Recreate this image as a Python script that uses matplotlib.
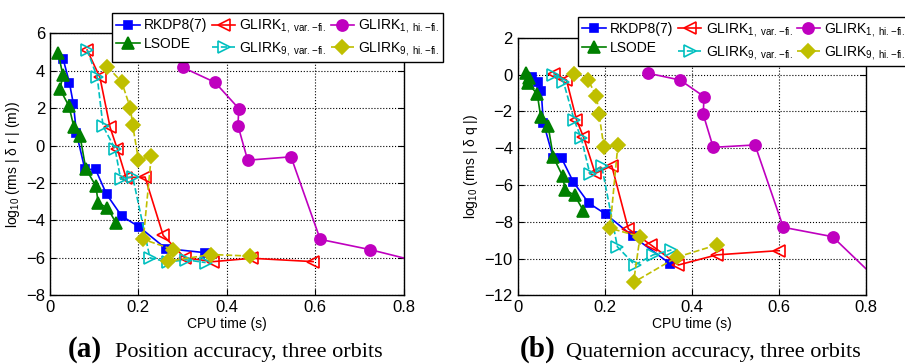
import matplotlib
matplotlib.use("Agg")
import matplotlib.pyplot as plt

plt.rcParams["font.family"] = ["Liberation Sans", "DejaVu Sans"]
plt.rcParams["mathtext.fontset"] = "custom"
plt.rcParams["mathtext.rm"] = "Liberation Sans"
plt.rcParams["mathtext.it"] = "Liberation Sans:italic"
plt.rcParams["mathtext.bf"] = "Liberation Sans:bold"

# CPU time (s) and log10 rms errors, position (pos) and quaternion (quat)
rkdp_t = [0.030, 0.044, 0.053, 0.060, 0.079, 0.103, 0.128, 0.162, 0.202, 0.262, 0.350]
rkdp_pos = [4.61, 3.36, 2.22, 0.65, -1.27, -1.27, -2.60, -3.76, -4.35, -5.50, -5.72]
rkdp_t_q = [0.032, 0.047, 0.054, 0.059, 0.082, 0.101, 0.128, 0.163, 0.202, 0.265, 0.350]
rkdp_quat = [-0.14, -0.38, -0.87, -2.60, -4.55, -4.55, -5.84, -6.98, -7.58, -8.80, -10.28]

lsode_t = [0.019, 0.029, 0.023, 0.043, 0.054, 0.068, 0.081, 0.104, 0.109, 0.130, 0.149]
lsode_pos = [4.93, 3.77, 3.00, 2.11, 1.00, 0.50, -1.23, -2.17, -3.07, -3.32, -4.12]
lsode_t_q = [0.019, 0.027, 0.023, 0.045, 0.053, 0.070, 0.082, 0.103, 0.109, 0.131, 0.151]
lsode_quat = [0.10, -0.20, -0.45, -1.05, -2.30, -2.80, -4.49, -5.50, -6.25, -6.57, -7.40]

g1var_t = [0.084, 0.113, 0.136, 0.152, 0.172, 0.215, 0.256, 0.305, 0.369, 0.456, 0.595]
g1var_pos = [5.11, 3.64, 0.97, -0.16, -1.71, -1.68, -4.80, -6.00, -6.20, -6.02, -6.20]
g1var_t_q = [0.084, 0.112, 0.135, 0.151, 0.178, 0.216, 0.254, 0.306, 0.369, 0.457, 0.599]
g1var_quat = [0.06, -0.28, -2.44, -3.38, -5.37, -4.95, -8.38, -9.26, -10.35, -9.80, -9.57]

g9var_t = [0.084, 0.107, 0.120, 0.147, 0.160, 0.187, 0.226, 0.267, 0.307, 0.352]
g9var_pos = [5.11, 3.64, 1.04, -0.16, -1.80, -1.66, -6.00, -6.22, -6.10, -6.25]
g9var_t_q = [0.082, 0.105, 0.130, 0.146, 0.166, 0.193, 0.229, 0.269, 0.311, 0.353]
g9var_quat = [0.00, -0.38, -2.48, -3.45, -5.40, -4.98, -9.36, -10.35, -9.80, -9.53]

g1hi_t = [0.300, 0.373, 0.427, 0.425, 0.447, 0.545, 0.611, 0.724, 0.850]
g1hi_pos = [4.18, 3.38, 1.98, 1.07, -0.78, -0.60, -5.01, -5.56, -6.30]
g1hi_t_q = [0.300, 0.373, 0.428, 0.426, 0.449, 0.545, 0.610, 0.723, 0.850]
g1hi_quat = [0.08, -0.29, -1.19, -2.15, -3.95, -3.82, -8.30, -8.81, -11.70]

g9hi_t = [0.130, 0.162, 0.182, 0.187, 0.200, 0.229, 0.211, 0.279, 0.267, 0.364, 0.452]
g9hi_pos = [4.21, 3.41, 1.99, 1.09, -0.75, -0.57, -5.01, -5.56, -6.18, -5.82, -5.90]
g9hi_t_q = [0.130, 0.162, 0.181, 0.187, 0.198, 0.230, 0.212, 0.281, 0.266, 0.365, 0.457]
g9hi_quat = [0.06, -0.30, -1.18, -2.16, -3.93, -3.85, -8.35, -8.81, -11.30, -9.93, -9.26]

labels = [
    "RKDP8(7)",
    "LSODE",
    r"GLIRK$_{\mathrm{1,\ var.\!-\!fi.}}$",
    r"GLIRK$_{\mathrm{9,\ var.\!-\!fi.}}$",
    r"GLIRK$_{\mathrm{1,\ hi.\!-\!fi.}}$",
    r"GLIRK$_{\mathrm{9,\ hi.\!-\!fi.}}$",
]

# color, marker, linestyle, filled, marker size
styles = [
    ((0.0, 0.0, 1.0), "s", "-", True, 6),
    ((0.0, 0.5, 0.0), "^", "-", True, 8),
    ((1.0, 0.0, 0.0), "<", "-", False, 8),
    ((0.0, 0.75, 0.75), ">", "--", False, 8),
    ((0.75, 0.0, 0.75), "o", "-", True, 8),
    ((0.75, 0.75, 0.0), "D", "--", True, 7),
]

pos_series = [(rkdp_t, rkdp_pos), (lsode_t, lsode_pos), (g1var_t, g1var_pos),
              (g9var_t, g9var_pos), (g1hi_t, g1hi_pos), (g9hi_t, g9hi_pos)]
quat_series = [(rkdp_t_q, rkdp_quat), (lsode_t_q, lsode_quat), (g1var_t_q, g1var_quat),
               (g9var_t_q, g9var_quat), (g1hi_t_q, g1hi_quat), (g9hi_t_q, g9hi_quat)]

fig = plt.figure(figsize=(9.05, 3.64), dpi=100)
ax1 = fig.add_axes([0.0552, 0.1887, 0.391, 0.7198])
ax2 = fig.add_axes([0.572, 0.1887, 0.385, 0.707])


def draw(ax, series, ylim, yticks, ylabel, legend_xy):
    for (t, v), lab, (c, m, ls, filled, ms) in zip(series, labels, styles):
        ax.plot(t, v, linestyle=ls, color=c, marker=m, markersize=ms,
                markerfacecolor=c if filled else "none", markeredgecolor=c,
                markeredgewidth=1.2, linewidth=1.2, label=lab, clip_on=True)
    ax.set_xlim(0, 0.8)
    ax.set_ylim(*ylim)
    ax.set_xticks([0, 0.2, 0.4, 0.6, 0.8])
    ax.set_xticklabels(["0", "0.2", "0.4", "0.6", "0.8"])
    ax.set_yticks(yticks)
    ax.grid(True, linestyle=":", color="k", linewidth=0.8)
    ax.tick_params(direction="in", top=True, right=True, labelsize=12, length=4)
    for s in ax.spines.values():
        s.set_linewidth(1.0)
    ax.set_xlabel("CPU time (s)", fontsize=10, labelpad=1)
    ax.set_ylabel(ylabel, fontsize=10, labelpad=3)
    leg = ax.legend(loc="upper left", bbox_to_anchor=legend_xy, bbox_transform=fig.transFigure,
                    ncol=3, fontsize=10, frameon=True, fancybox=False, framealpha=1,
                    edgecolor="k", handlelength=1.7, handletextpad=0.3, columnspacing=0.3,
                    labelspacing=0.35, borderpad=0.3, borderaxespad=0)
    leg.get_frame().set_linewidth(1.0)


draw(ax1, pos_series, (-8, 6), [-8, -6, -4, -2, 0, 2, 4, 6],
     r"log$_{10}$ (rms | δ r | (m))", (0.124, 0.964))
draw(ax2, quat_series, (-12, 2), [-12, -10, -8, -6, -4, -2, 0, 2],
     r"log$_{10}$ (rms | δ q |)", (0.639, 0.954))

serif = ["Liberation Serif", "DejaVu Serif"]
fig.text(0.075, 0.02, "(a)", family=serif, fontweight="bold", fontsize=21, va="baseline")
fig.text(0.127, 0.02, "Position accuracy, three orbits", family=serif, fontsize=16, va="baseline")
fig.text(0.574, 0.02, "(b)", family=serif, fontweight="bold", fontsize=21, va="baseline")
fig.text(0.625, 0.02, "Quaternion accuracy, three orbits", family=serif, fontsize=16, va="baseline")

fig.savefig("out.png", dpi=100)
